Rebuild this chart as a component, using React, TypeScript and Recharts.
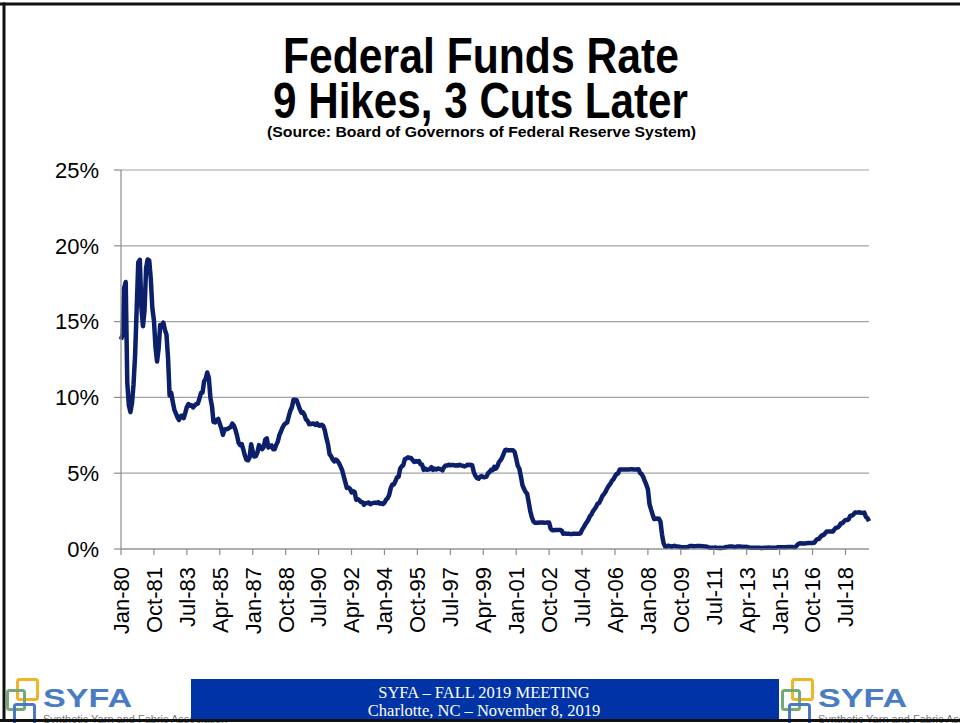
import React from 'react';
import { LineChart, Line, XAxis, YAxis, CartesianGrid } from 'recharts';

// Effective federal funds rate, monthly, Jan-80 .. Oct-19 (percent)
const rates1980s = [
  13.82, 14.13, 17.19, 17.61, 10.98, 9.47, 9.03, 9.61, 10.87, 12.81, 15.85, 18.9,
  19.08, 15.93, 14.7, 15.72, 18.52, 19.1, 19.04, 17.82, 15.87, 15.08, 13.31, 12.37,
  13.22, 14.78, 14.68, 14.94, 14.45, 14.15, 12.59, 10.12, 10.31, 9.71, 9.2, 8.95,
  8.68, 8.51, 8.77, 8.8, 8.63, 8.98, 9.37, 9.56, 9.45, 9.48, 9.34, 9.47,
  9.56, 9.59, 9.91, 10.29, 10.32, 11.06, 11.23, 11.64, 11.3, 9.99, 9.43, 8.38,
  8.35, 8.5, 8.58, 8.27, 7.97, 7.53, 7.88, 7.9, 7.92, 7.99, 8.05, 8.27,
  8.14, 7.86, 7.48, 6.99, 6.85, 6.92, 6.56, 6.17, 5.89, 5.85, 6.04, 6.91,
  6.43, 6.1, 6.13, 6.37, 6.85, 6.73, 6.58, 6.73, 7.22, 7.29, 6.69, 6.77,
  6.83, 6.58, 6.58, 6.87, 7.09, 7.51, 7.75, 8.01, 8.19, 8.3, 8.35, 8.76,
  9.12, 9.36, 9.85, 9.84, 9.81, 9.53, 9.24, 8.99, 9.02, 8.84, 8.55, 8.45,
];
const rates1990s = [
  8.23, 8.24, 8.28, 8.26, 8.18, 8.29, 8.15, 8.13, 8.2, 8.11, 7.81, 7.31,
  6.91, 6.25, 6.12, 5.91, 5.78, 5.9, 5.82, 5.66, 5.45, 5.21, 4.81, 4.43,
  4.03, 4.06, 3.98, 3.73, 3.82, 3.76, 3.25, 3.3, 3.22, 3.1, 3.09, 2.92,
  3.02, 3.03, 3.07, 2.96, 3.0, 3.04, 3.06, 3.03, 3.09, 2.99, 3.02, 2.96,
  3.05, 3.25, 3.34, 3.56, 4.01, 4.25, 4.26, 4.47, 4.73, 4.76, 5.29, 5.45,
  5.53, 5.92, 5.98, 6.05, 6.01, 6.0, 5.85, 5.74, 5.8, 5.76, 5.8, 5.6,
  5.56, 5.22, 5.31, 5.22, 5.24, 5.27, 5.4, 5.22, 5.3, 5.24, 5.31, 5.29,
  5.25, 5.19, 5.39, 5.51, 5.5, 5.56, 5.52, 5.54, 5.54, 5.5, 5.52, 5.5,
  5.56, 5.51, 5.49, 5.45, 5.49, 5.56, 5.54, 5.55, 5.51, 5.07, 4.83, 4.68,
  4.63, 4.76, 4.81, 4.74, 4.74, 4.76, 4.99, 5.07, 5.22, 5.2, 5.42, 5.3,
];
const rates2000s = [
  5.45, 5.73, 5.85, 6.02, 6.27, 6.53, 6.54, 6.5, 6.52, 6.51, 6.51, 6.4,
  5.98, 5.49, 5.31, 4.8, 4.21, 3.97, 3.77, 3.65, 3.07, 2.49, 2.09, 1.82,
  1.73, 1.74, 1.73, 1.75, 1.75, 1.75, 1.73, 1.74, 1.75, 1.75, 1.34, 1.24,
  1.24, 1.26, 1.25, 1.26, 1.26, 1.22, 1.01, 1.03, 1.01, 1.01, 1.0, 0.98,
  1.0, 1.01, 1.0, 1.0, 1.0, 1.03, 1.26, 1.43, 1.61, 1.76, 1.93, 2.16,
  2.28, 2.5, 2.63, 2.79, 3.0, 3.04, 3.26, 3.5, 3.62, 3.78, 4.0, 4.16,
  4.29, 4.49, 4.59, 4.79, 4.94, 4.99, 5.24, 5.25, 5.25, 5.25, 5.25, 5.24,
  5.25, 5.26, 5.26, 5.25, 5.25, 5.25, 5.26, 5.02, 4.94, 4.76, 4.49, 4.24,
  3.94, 2.98, 2.61, 2.28, 1.98, 2.0, 2.01, 2.0, 1.81, 0.97, 0.39, 0.16,
  0.15, 0.22, 0.18, 0.15, 0.18, 0.21, 0.16, 0.16, 0.15, 0.12, 0.12, 0.12,
];
const rates2010s = [
  0.11, 0.13, 0.16, 0.2, 0.2, 0.18, 0.18, 0.19, 0.19, 0.19, 0.19, 0.18,
  0.17, 0.16, 0.14, 0.1, 0.09, 0.09, 0.07, 0.1, 0.08, 0.07, 0.08, 0.07,
  0.08, 0.1, 0.13, 0.14, 0.16, 0.16, 0.16, 0.13, 0.14, 0.16, 0.16, 0.16,
  0.14, 0.15, 0.14, 0.15, 0.11, 0.09, 0.09, 0.08, 0.08, 0.09, 0.08, 0.09,
  0.07, 0.07, 0.08, 0.09, 0.09, 0.1, 0.09, 0.09, 0.09, 0.09, 0.09, 0.12,
  0.11, 0.11, 0.11, 0.12, 0.12, 0.13, 0.13, 0.14, 0.14, 0.12, 0.12, 0.24,
  0.34, 0.38, 0.36, 0.37, 0.37, 0.38, 0.39, 0.4, 0.4, 0.4, 0.41, 0.54,
  0.65, 0.66, 0.79, 0.9, 0.91, 1.04, 1.15, 1.16, 1.15, 1.15, 1.16, 1.3,
  1.41, 1.42, 1.51, 1.69, 1.7, 1.82, 1.91, 1.91, 1.95, 2.19, 2.2, 2.27,
  2.4, 2.4, 2.41, 2.42, 2.39, 2.38, 2.4, 2.13, 2.04, 1.83,
];

const monthNames = ['Jan', 'Feb', 'Mar', 'Apr', 'May', 'Jun', 'Jul', 'Aug', 'Sep', 'Oct', 'Nov', 'Dec'];
const startYear = 1980;
const yTicks = [0, 5, 10, 15, 20, 25];

const rates = [...rates1980s, ...rates1990s, ...rates2000s, ...rates2010s];
const chartData = rates.map((rate, i) => {
  const yr = (startYear + Math.floor(i / 12)) % 100;
  return {
    month: `${monthNames[i % 12]}-${String(yr).padStart(2, '0')}`,
    rate,
  };
});

const sans = '"Liberation Sans", Arial, Helvetica, sans-serif';
const serif = '"Liberation Serif", "Times New Roman", serif';
const gridColor = '#a3a3a3';
const axisColor = '#8c8c8c';

const MonthTick = (props: any) => {
  const { x, y, payload } = props;
  return (
    <text
      x={x}
      y={y}
      transform={`rotate(-90, ${x}, ${y})`}
      textAnchor="end"
      dy="0.36em"
      fontSize={22}
      fontFamily={sans}
      fill="#000"
    >
      {payload.value}
    </text>
  );
};

// little SYFA logo, drawn at offset dx
const Logo = ({ dx }: { dx: number }) => (
  <g transform={`translate(${dx}, 0)`}>
    <rect x={17.5} y={679.5} width={20} height={20} rx={2} fill="none" stroke="#f0b429" strokeWidth={3} />
    <rect x={7.5} y={690.5} width={17} height={19} rx={2} fill="none" stroke="#74a874" strokeWidth={3} />
    <rect x={14.5} y={704.5} width={20} height={20} rx={2} fill="none" stroke="#4a79c2" strokeWidth={3} />
    <text x={43} y={707} fontSize={25} fontWeight="bold" fontFamily={sans} fill="#4a7cc4" textLength={89} lengthAdjust="spacingAndGlyphs">
      SYFA
    </text>
    <text x={43} y={723} fontSize={11} fontFamily={sans} fill="#7a7a7a">
      Synthetic Yarn and Fabric Association
    </text>
  </g>
);

export default function App() {
  return (
    <div style={{ position: 'absolute', left: 0, top: 0, width: 960, height: 723, background: '#fff', overflow: 'hidden' }}>
      <svg width={960} height={723} style={{ position: 'absolute', left: 0, top: 0 }}>
        <text x={481} y={73} textAnchor="middle" fontSize={50} fontWeight="bold" fontFamily={sans} textLength={396} lengthAdjust="spacingAndGlyphs">
          Federal Funds Rate
        </text>
        <text x={480.5} y={118} textAnchor="middle" fontSize={50} fontWeight="bold" fontFamily={sans} textLength={415} lengthAdjust="spacingAndGlyphs">
          9 Hikes, 3 Cuts Later
        </text>
        <text x={481.5} y={137} textAnchor="middle" fontSize={14.5} fontWeight="bold" fontFamily={sans} textLength={429} lengthAdjust="spacingAndGlyphs">
          (Source: Board of Governors of Federal Reserve System)
        </text>

        <Logo dx={0} />
        <Logo dx={775} />

        <rect x={191} y={679} width={588} height={41} fill="#0033a6" />
        <text x={484} y={698} textAnchor="middle" fontSize={16.5} fontFamily={serif} fill="#fff">
          SYFA – FALL 2019 MEETING
        </text>
        <text x={484} y={716} textAnchor="middle" fontSize={16.5} fontFamily={serif} fill="#fff">
          Charlotte, NC – November 8, 2019
        </text>

        {/* slide frame */}
        <rect x={0} y={2.5} width={960} height={3} fill="#111" />
        <rect x={2.5} y={2.5} width={3} height={719} fill="#111" />
        <rect x={0} y={719} width={960} height={3} fill="#111" />
      </svg>

      <div style={{ position: 'absolute', left: 0, top: 0 }}>
        <LineChart width={960} height={723} data={chartData} margin={{ top: 170, right: 91, bottom: 0, left: 0 }}>
          <CartesianGrid vertical={false} stroke={gridColor} strokeWidth={1.2} />
          <XAxis
            dataKey="month"
            interval={20}
            height={174}
            tickSize={6}
            tickMargin={12}
            tick={<MonthTick />}
            axisLine={{ stroke: axisColor, strokeWidth: 1.2 }}
            tickLine={{ stroke: axisColor, strokeWidth: 1.2 }}
          />
          <YAxis
            width={121}
            domain={[0, 25]}
            ticks={yTicks}
            tickFormatter={(v: number) => `${v}%`}
            tickSize={7}
            tickMargin={15}
            tick={{ fill: '#000', fontSize: 22, fontFamily: sans }}
            axisLine={{ stroke: axisColor, strokeWidth: 1.2 }}
            tickLine={{ stroke: axisColor, strokeWidth: 1.2 }}
          />
          <Line
            type="linear"
            dataKey="rate"
            stroke="#0c1f6b"
            strokeWidth={4.5}
            strokeLinejoin="round"
            dot={false}
            isAnimationActive={false}
          />
        </LineChart>
      </div>
    </div>
  );
}
